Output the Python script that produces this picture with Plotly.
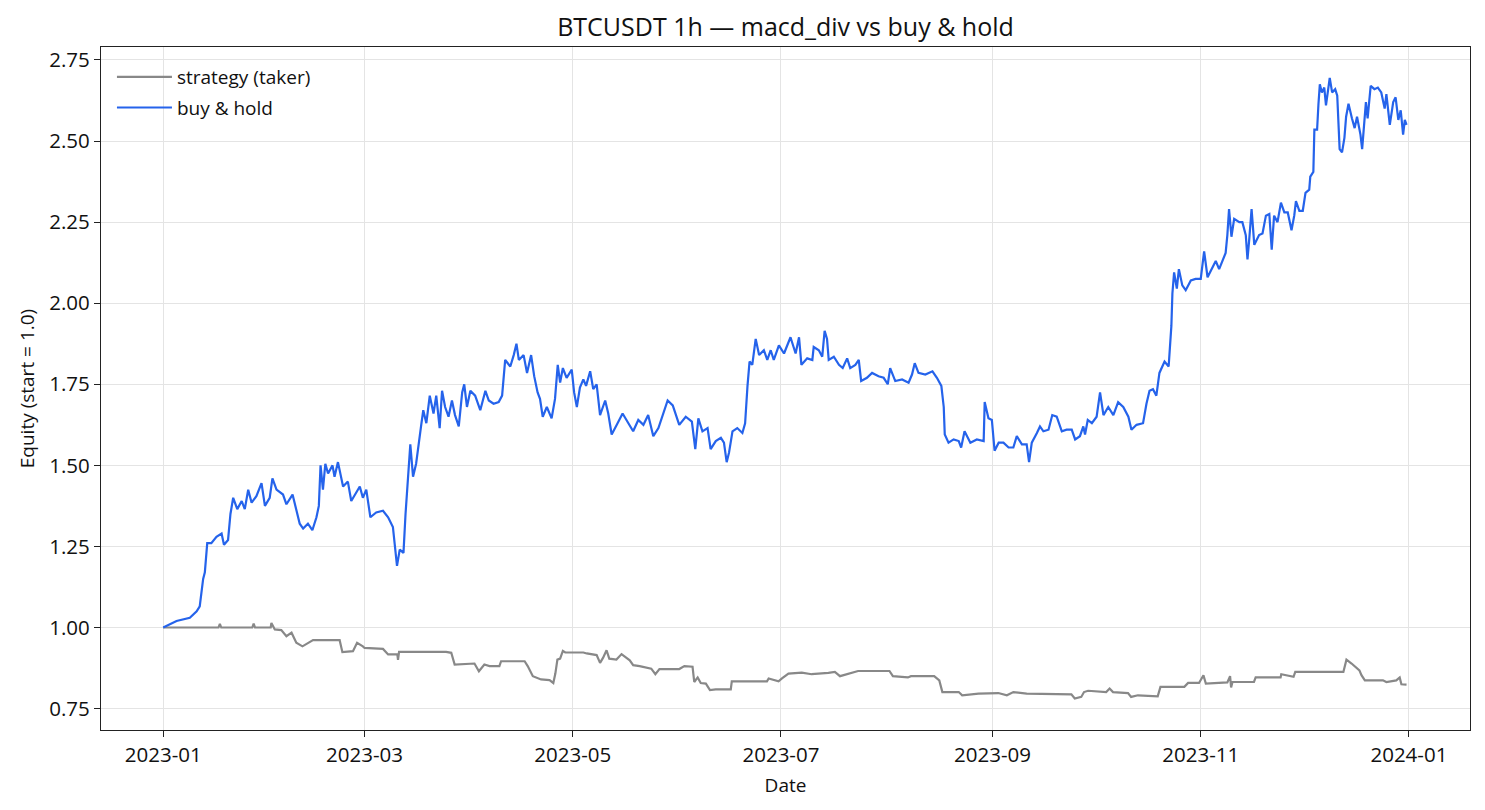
"""
BTCUSDT 1h equity curves: macd_div strategy (taker fees) vs buy & hold.
Values read off the reference figure, days counted from 2023-01-01.
"""
import numpy as np
import pandas as pd
import plotly.graph_objects as go

START = pd.Timestamp("2023-01-01")

# buy & hold equity (start = 1.0)
hold_days = [
    0, 3.9, 7.8, 9.8, 10.7, 11.2, 11.7, 12.2, 12.9, 14.1, 15.6, 17.1, 17.8, 19.0,
    19.7, 20.5, 21.7, 23.0, 23.9, 24.9, 25.9, 27.3, 28.8, 29.8, 31.2, 32.0, 33.2,
    35.1, 36.1, 37.9, 39.0, 40.0, 41.0, 42.4, 43.7, 44.9, 45.6, 46.1, 46.8, 47.5,
    48.3, 49.6, 50.2, 51.2, 52.7, 54.1, 55.1, 56.6, 57.6, 58.5, 59.5, 60.7, 62.4,
    64.4, 65.9, 67.3, 68.1, 68.5, 69.3, 70.4, 71.0, 71.7, 72.4, 73.2, 74.1,
    75.6, 76.2, 77.1, 78.1, 79.2, 80.0, 81.0, 81.7, 82.6, 83.6, 84.6, 85.5, 86.6,
    87.6, 88.2, 89.0, 90.0, 91.4, 92.9, 94.4, 95.4, 96.8, 98.3, 99.3, 100.2, 101.7,
    102.7, 103.5, 104.2, 105.6, 106.6, 107.8, 108.7, 109.7, 110.4, 111.2, 112.4,
    113.8, 114.8, 115.6, 116.3, 117.1, 118.2, 119.7, 120.4, 121.2, 122.1, 123.1,
    123.9, 125.1, 126.0, 127.0, 128.0, 129.5, 130.4, 131.4, 132.9, 134.6, 136.3,
    137.7, 139.2, 140.7, 142.1, 143.6, 145.1,
    147.8, 149.3, 151.2, 153.1, 154.9, 155.9, 156.8, 158.0, 159.5, 160.4, 161.9,
    163.4, 164.3, 165.1, 165.8, 166.8, 168.2, 169.7, 170.5, 171.2, 171.8, 172.6,
    173.6, 174.6, 176.0, 177.0, 178.0, 178.9, 180.4, 181.9, 183.8, 185.3, 186.3,
    187.0, 188.7, 190.2, 190.6, 192.1, 193.1, 193.8, 194.5, 195.0, 196.5, 198.0,
    199.1, 200.4, 201.3, 202.8, 203.8, 204.5, 206.2, 207.7, 209.6, 211.1, 212.3,
    213.0, 214.5, 216.5, 218.4, 219.4, 220.2, 221.3, 223.3, 225.4, 226.7, 228.0,
    228.7, 229.0, 230.1, 231.6, 233.1,
    233.8, 234.8, 236.5, 238.4, 240.4, 240.7, 241.8, 242.8, 243.6, 244.8, 246.2,
    247.7, 249.1, 250.1, 251.6, 253.0, 253.7, 254.5, 256.0, 256.9, 257.9, 259.4,
    260.5, 261.8, 263.3, 264.7, 266.2, 267.2, 268.6, 269.6, 270.1, 270.9, 272.1,
    273.5, 274.5, 275.5, 276.9, 278.4, 279.8, 281.3, 282.8, 283.7, 285.2, 287.1,
    288.1, 289.0, 290.0, 291.0, 291.9, 293.4, 294.6,
    295.4, 295.7, 296.2, 297.0, 297.6, 298.6, 299.6, 301.1, 302.5, 304.0, 305.0,
    306.0, 307.4, 308.4, 309.4, 310.7, 311.3, 311.8, 312.3, 313.0, 313.8, 315.3,
    316.2, 317.2, 317.7, 318.2, 318.9, 319.7, 321.1, 322.1, 323.1, 324.1, 324.8,
    325.5, 326.5, 327.5, 328.5, 329.5, 330.6, 331.4, 331.9, 332.9, 333.9, 334.7,
    335.8, 336.1, 337.0, 337.3, 338.1, 338.5, 338.9, 339.5, 340.2, 340.7, 341.2,
    341.8, 342.5, 343.4, 344.0, 344.4, 344.7, 345.4, 346.1, 346.6, 347.3, 348.3,
    349.1, 349.8, 350.8, 351.3, 351.9, 352.4, 352.9, 353.8, 354.9, 355.9, 356.9,
    357.9, 358.4, 359.4, 360.4, 361.1, 361.9, 362.6, 363.3, 363.8, 364.3,
]
hold_equity = [
    1.00, 1.02, 1.03, 1.05, 1.065, 1.11, 1.15, 1.17, 1.26, 1.26, 1.28, 1.29, 1.255, 1.27,
    1.35, 1.40, 1.365, 1.39, 1.365, 1.425, 1.385, 1.405, 1.445, 1.375, 1.40, 1.46, 1.425,
    1.41, 1.38, 1.41, 1.365, 1.32, 1.305, 1.32, 1.30, 1.34, 1.375, 1.50, 1.425, 1.505,
    1.475, 1.50, 1.465, 1.51, 1.435, 1.45, 1.39, 1.415, 1.435, 1.40, 1.425, 1.34, 1.355,
    1.36, 1.34, 1.31, 1.22, 1.19, 1.24, 1.23, 1.35, 1.465, 1.565, 1.465, 1.505,
    1.625, 1.67, 1.63, 1.715, 1.66, 1.715, 1.615, 1.73, 1.68, 1.65, 1.70, 1.655, 1.62,
    1.725, 1.75, 1.68, 1.73, 1.715, 1.67, 1.73, 1.70, 1.69, 1.695, 1.715, 1.825, 1.805,
    1.84, 1.875, 1.825, 1.84, 1.785, 1.84, 1.775, 1.725, 1.705, 1.65, 1.68,
    1.645, 1.705, 1.81, 1.755, 1.80, 1.77, 1.795, 1.725, 1.68, 1.74, 1.765,
    1.745, 1.79, 1.735, 1.75, 1.655, 1.70, 1.66, 1.595, 1.625, 1.66, 1.63,
    1.605, 1.64, 1.625, 1.655, 1.59, 1.615,
    1.70, 1.685, 1.625, 1.65, 1.635, 1.55, 1.645, 1.605, 1.615, 1.55, 1.575,
    1.585, 1.57, 1.51, 1.54, 1.605, 1.615, 1.60, 1.63, 1.745, 1.82, 1.81,
    1.89, 1.84, 1.855, 1.825, 1.855, 1.825, 1.87, 1.845, 1.895, 1.845, 1.895,
    1.81, 1.83, 1.825, 1.865, 1.855, 1.835, 1.915, 1.89, 1.825, 1.835, 1.81,
    1.80, 1.83, 1.80, 1.81, 1.825, 1.76, 1.77, 1.785, 1.775, 1.77, 1.75,
    1.80, 1.76, 1.765, 1.755, 1.78, 1.815, 1.785, 1.78, 1.79, 1.77, 1.745,
    1.68, 1.595, 1.57, 1.58, 1.575,
    1.555, 1.605, 1.57, 1.58, 1.575, 1.695, 1.645, 1.64, 1.545, 1.57, 1.57,
    1.555, 1.555, 1.59, 1.565, 1.565, 1.51, 1.57, 1.60, 1.62, 1.605, 1.61,
    1.655, 1.65, 1.605, 1.61, 1.61, 1.58, 1.59, 1.62, 1.595, 1.64, 1.63,
    1.65, 1.725, 1.655, 1.68, 1.655, 1.695, 1.68, 1.65, 1.61, 1.625, 1.63,
    1.69, 1.73, 1.735, 1.715, 1.785, 1.82, 1.805,
    1.93, 2.03, 2.095, 2.045, 2.105, 2.055, 2.04, 2.07, 2.075, 2.075, 2.16,
    2.08, 2.11, 2.13, 2.105, 2.14, 2.155, 2.21, 2.29, 2.205, 2.26, 2.25,
    2.25, 2.21, 2.135, 2.195, 2.29, 2.18, 2.21, 2.215, 2.27, 2.275, 2.165,
    2.27, 2.25, 2.31, 2.28, 2.28, 2.225, 2.27, 2.315, 2.285, 2.285, 2.34,
    2.35, 2.39, 2.405, 2.535, 2.535, 2.615, 2.675, 2.65, 2.665, 2.61, 2.65,
    2.695, 2.65, 2.66, 2.64, 2.54, 2.475, 2.465, 2.51, 2.575, 2.615, 2.57,
    2.54, 2.575, 2.52, 2.475, 2.545, 2.62, 2.57, 2.67, 2.66, 2.665, 2.65,
    2.60, 2.645, 2.55, 2.62, 2.635, 2.565, 2.595, 2.52, 2.565, 2.55,
]

# strategy equity (taker fees)
strat_days = [
    0, 16.2, 16.6, 17.0, 26.1, 26.5, 26.9, 31.5, 31.7, 32.7, 34.6, 36.1, 37.6, 39.0,
    40.8, 42.4, 43.9, 51.7, 52.5, 55.6, 56.8, 58.5, 59.0, 64.4, 65.9, 68.6, 68.8,
    69.1, 82.9, 84.4, 85.4, 91.2, 92.5, 94.1, 95.6, 98.5, 99.0, 105.9, 106.8, 108.3,
    110.7, 113.2, 114.3, 114.9, 115.5, 116.3, 117.1, 117.8, 123.1, 124.1, 127.0,
    128.0, 128.9, 129.9, 130.7, 132.8, 134.3, 136.7, 137.7, 139.6, 141.5, 143.0,
    144.2, 145.4, 151.2, 152.7, 155.1, 155.6, 156.6, 157.5, 159.0, 160.2, 161.9,
    166.3, 166.6, 176.9, 177.4, 180.3, 181.3, 183.2, 187.1, 190.0, 194.9, 196.8,
    198.3, 200.7, 203.6, 212.8, 213.8, 218.2, 219.1, 225.9, 227.4, 228.3, 229.8,
    233.1, 234.1, 238.9, 244.7, 247.2, 249.1, 253.0, 266.1, 267.1, 269.0, 269.8,
    271.0, 276.3, 277.3, 278.3, 282.7, 283.6, 285.6, 291.4, 292.2, 299.2, 300.3,
    303.5, 304.8, 305.5, 311.8, 312.6, 312.9, 313.3, 319.6, 320.1, 327.4, 327.6,
    331.2, 331.7, 345.8, 346.7, 348.2, 349.2, 350.5, 351.1, 352.1, 357.4, 358.4,
    361.3, 362.3, 362.8, 364.3,
]
strat_equity = [
    1.00, 1.00, 1.011, 1.00, 1.00, 1.012, 1.00, 1.00, 1.014, 0.994, 0.992, 0.973, 0.984, 0.953,
    0.942, 0.953, 0.961, 0.961, 0.924, 0.927, 0.953, 0.942, 0.937, 0.934, 0.917, 0.917, 0.90,
    0.925, 0.925, 0.922, 0.886, 0.889, 0.865, 0.886, 0.881, 0.881, 0.896, 0.896, 0.881, 0.85,
    0.84, 0.838, 0.829, 0.858, 0.901, 0.904, 0.928, 0.923, 0.923, 0.92, 0.915,
    0.891, 0.907, 0.93, 0.904, 0.901, 0.918, 0.899, 0.884, 0.881, 0.876, 0.873,
    0.856, 0.872, 0.872, 0.881, 0.879, 0.832, 0.846, 0.829, 0.827, 0.807, 0.809,
    0.809, 0.834, 0.834, 0.843, 0.834, 0.843, 0.858, 0.861, 0.856, 0.86, 0.863,
    0.85, 0.858, 0.866, 0.866, 0.85, 0.846, 0.85, 0.85, 0.837, 0.801, 0.801,
    0.801, 0.791, 0.796, 0.798, 0.791, 0.801, 0.796, 0.794, 0.781, 0.786, 0.801,
    0.805, 0.801, 0.812, 0.801, 0.798, 0.786, 0.791, 0.788, 0.817, 0.817, 0.829,
    0.829, 0.853, 0.827, 0.831, 0.85, 0.815, 0.832, 0.832, 0.846, 0.846, 0.856,
    0.848, 0.863, 0.863, 0.901, 0.889, 0.879, 0.868, 0.853, 0.837, 0.837, 0.832,
    0.837, 0.846, 0.825, 0.824,
]

Y_TICKS = [0.75, 1.00, 1.25, 1.50, 1.75, 2.00, 2.25, 2.50, 2.75]
X_TICKS = ["2023-01-01", "2023-03-01", "2023-05-01", "2023-07-01",
           "2023-09-01", "2023-11-01", "2024-01-01"]

FONT = "Open Sans, Noto Sans, sans-serif"
GRID = "#e4e4e4"
AXIS = "#222222"
TXT = "#111111"

# the page body has an 8 px margin, so the figure is shrunk by that much
W, H = 1485 - 8, 810 - 8


def to_dates(days):
    return START + pd.to_timedelta(np.asarray(days), unit="D")


fig = go.Figure()
fig.add_trace(go.Scatter(x=to_dates(strat_days), y=strat_equity, mode="lines",
                         name="strategy (taker)", legendgroup="strat",
                         line=dict(color="#888888", width=2.2)))
fig.add_trace(go.Scatter(x=to_dates(hold_days), y=hold_equity, mode="lines",
                         name="buy & hold", legendgroup="hold",
                         line=dict(color="#2563eb", width=2.2)))

x_lo = START - pd.Timedelta(days=18.23)
x_hi = START + pd.Timedelta(days=382.9)

fig.update_xaxes(range=[x_lo, x_hi], tickvals=pd.to_datetime(X_TICKS),
                 tickformat="%Y-%m", showgrid=True, gridcolor=GRID, gridwidth=1,
                 showline=True, linecolor=AXIS, linewidth=1.3, mirror=True,
                 ticks="outside", ticklen=6, tickcolor=AXIS, zeroline=False,
                 tickfont=dict(size=20.5, color=TXT),
                 title=dict(text="Date", font=dict(size=19, color=TXT),
                            standoff=11))
fig.update_yaxes(range=[0.684, 2.790], tickvals=Y_TICKS, tickformat=".2f",
                 showgrid=True, gridcolor=GRID, gridwidth=1,
                 showline=True, linecolor=AXIS, linewidth=1.3, mirror=True,
                 ticks="outside", ticklen=6, tickcolor=AXIS, zeroline=False,
                 tickfont=dict(size=20.5, color=TXT),
                 title=dict(text="Equity (start = 1.0)",
                            font=dict(size=19, color=TXT), standoff=9))

fig.update_layout(
    width=W, height=H,
    margin=dict(l=93, r=15, t=39, b=80),
    paper_bgcolor="white", plot_bgcolor="white",
    font=dict(family=FONT, color=TXT),
    title=dict(text="BTCUSDT 1h — macd_div vs buy & hold",
               x=0.5, xref="paper", xanchor="center",
               y=1 - 19 / H, yanchor="middle",
               font=dict(size=25, color=TXT)),
    legend=dict(x=0.008, y=0.984, xanchor="left", yanchor="top",
                bgcolor="rgba(255,255,255,0)", font=dict(size=19),
                itemwidth=55, tracegroupgap=3),
    showlegend=True,
)

fig.write_html("out.html")
